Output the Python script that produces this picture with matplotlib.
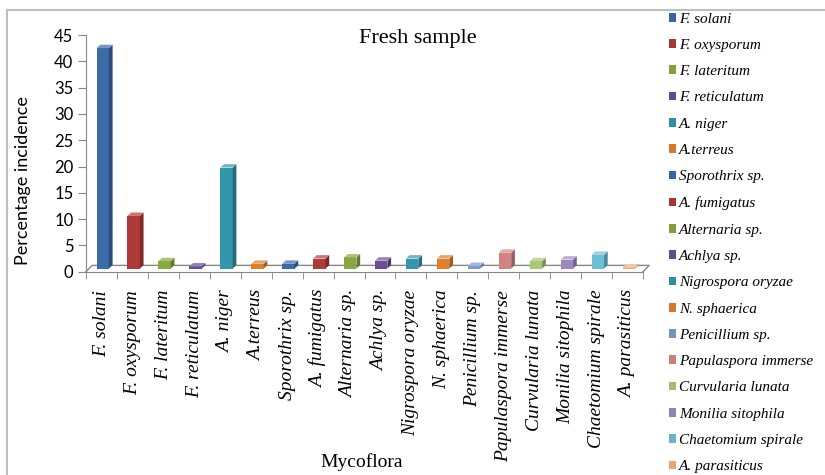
import matplotlib
matplotlib.use('Agg')
from matplotlib import pyplot as plt
from matplotlib.patches import Polygon, Patch
from matplotlib.lines import Line2D
from matplotlib.colors import to_rgb

# данные
species = ['F. solani', 'F. oxysporum', 'F. lateritum', 'F. reticulatum', 'A. niger',
           'A.terreus', 'Sporothrix sp.', 'A. fumigatus', 'Alternaria sp.', 'Achlya sp.',
           'Nigrospora oryzae', 'N. sphaerica', 'Penicillium sp.', 'Papulaspora immerse',
           'Curvularia lunata', 'Monilia sitophila', 'Chaetomium spirale', 'A. parasiticus']
incidence = [41.9, 10.0, 1.4, 0.4, 19.2, 0.9, 0.9, 1.9, 2.1, 1.5,
             1.9, 1.9, 0.5, 3.0, 1.4, 1.7, 2.6, 0.2]
colors = ['#3B6AA8', '#B03A37', '#86A83F', '#6A4F93', '#3397AC', '#E07F2C',
          '#3B6AA8', '#B03A37', '#86A83F', '#6A4F93', '#3397AC', '#E07F2C',
          '#7D9BCB', '#D38482', '#AAC774', '#9C89BE', '#6EC0D7', '#F6AE7C']


def shade(c, k):
    r, g, b = to_rgb(c)
    if k < 1:
        return (r * k, g * k, b * k)
    k = k - 1
    return (r + (1 - r) * k, g + (1 - g) * k, b + (1 - b) * k)


fig = plt.figure(figsize=(8.25, 4.75), dpi=100)
ax = fig.add_axes([86 / 825, 1 - 271.7 / 475, 557 / 825, 236.7 / 475])
ax.set_xlim(0, 18)
ax.set_ylim(0, 45)

grey = '#868686'
# пол (3D)
fx, fy = 0.2, 1.2
ax.plot([0, fx, 18 + fx, 18], [0, fy, fy, 0], color=grey, linewidth=1, clip_on=False)

# столбцы с псевдо-объёмом
base = 0.6
w = 0.4
dx, dy = 0.12, 0.65
for i in range(len(species)):
    x0 = i + 0.54 - w / 2
    h = incidence[i]
    c = colors[i]
    ax.bar(x0, h, width=w, bottom=base, align='edge', color=c, linewidth=0, zorder=3)
    side = Polygon([[x0 + w, base], [x0 + w + dx, base + dy], [x0 + w + dx, base + h + dy],
                    [x0 + w, base + h]], closed=True, facecolor=shade(c, 0.72),
                   edgecolor='none', zorder=3, clip_on=False)
    top = Polygon([[x0, base + h], [x0 + dx, base + h + dy], [x0 + w + dx, base + h + dy],
                   [x0 + w, base + h]], closed=True, facecolor=shade(c, 1.3),
                  edgecolor='none', zorder=3, clip_on=False)
    ax.add_patch(side)
    ax.add_patch(top)

for s in ['top', 'right']:
    ax.spines[s].set_visible(False)
ax.spines['left'].set_color(grey)
ax.spines['bottom'].set_color(grey)

ax.set_yticks(range(0, 46, 5))
ax.tick_params(axis='y', direction='out', length=6, color=grey, labelsize=12, pad=3)
for t in ax.get_yticklabels():
    t.set_fontfamily('Lato')

ax.set_xticks([i + 0.5 for i in range(18)])
ax.set_xticks(range(19), minor=True)
ax.set_xticklabels(species, rotation=90, fontfamily='Liberation Serif', fontstyle='italic',
                   fontsize=14, va='top')
ax.tick_params(axis='x', which='major', length=0, pad=13)
ax.tick_params(axis='x', which='minor', length=5, color=grey, direction='out')

ax.set_ylabel('Percentage incidence', fontfamily='Lato', fontsize=13)
ax.yaxis.set_label_coords(-0.099, (271.7 - 181) / 236.7)

fig.text(418 / 825, 1 - 38 / 475, 'Fresh sample', fontfamily='Liberation Serif', fontsize=16,
         ha='center', va='center')
fig.text(362 / 825, 1 - 462 / 475, 'Mycoflora', fontfamily='Liberation Serif', fontsize=14,
         ha='center', va='center')

# легенда
handles = [Patch(facecolor=shade(c, 0.95), edgecolor='none') for c in colors]
fig.legend(handles, species, loc='upper left', bbox_to_anchor=(664 / 825, 1 - 8 / 475),
           frameon=False, prop={'family': 'Liberation Serif', 'style': 'italic', 'size': 11},
           handlelength=0.5, handleheight=0.5, handletextpad=0.2, labelspacing=0.87,
           borderaxespad=0, borderpad=0.3)

# рамка диаграммы
fig.add_artist(Line2D([7 / 825, 7 / 825], [0, 1 - 10 / 475], color='#BFBFBF', linewidth=1.5))
fig.add_artist(Line2D([7 / 825, 1], [1 - 10 / 475, 1 - 10 / 475], color='#BFBFBF', linewidth=1.5))

plt.savefig('out.png')
